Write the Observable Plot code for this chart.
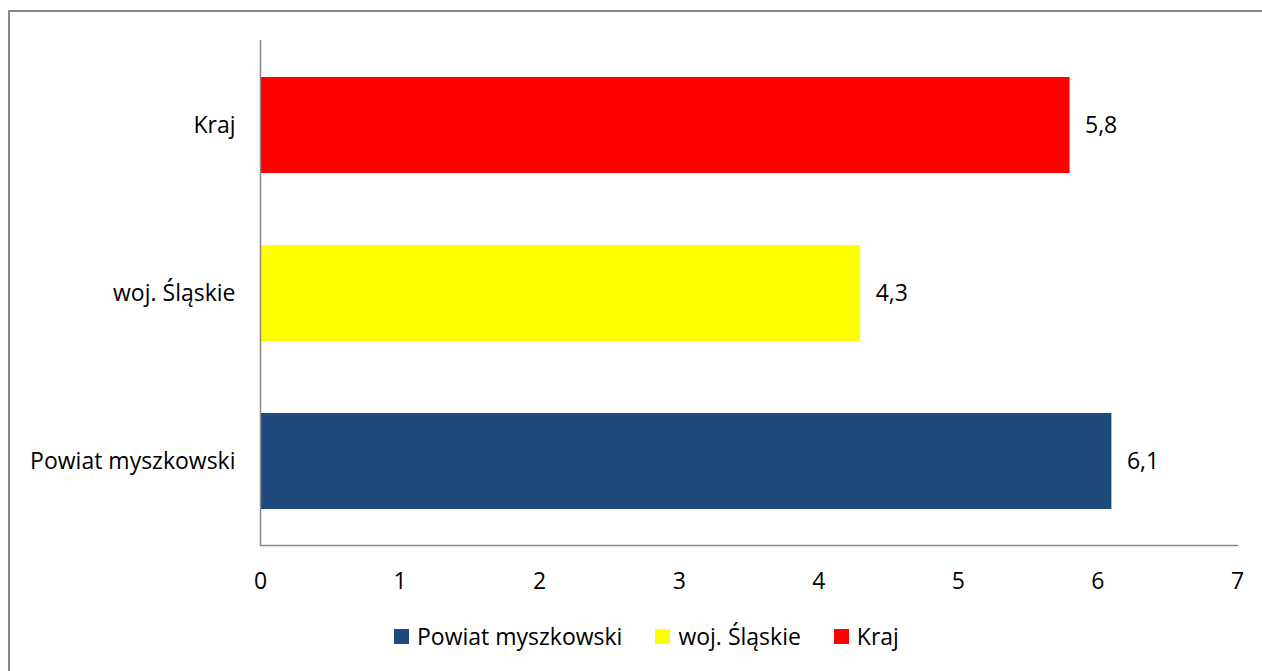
<!DOCTYPE html>
<html><head><meta charset="utf-8">
<script src="https://cdn.jsdelivr.net/npm/d3@7"></script>
<script src="https://cdn.jsdelivr.net/npm/@observablehq/plot@0.6"></script>
<style>
body{margin:0;background:#fff;font-family:"Open Sans",sans-serif;}
#frame{position:absolute;left:8px;top:10px;width:1260px;height:670px;border-top:2px solid #888;border-left:2px solid #888;}
#chart{position:absolute;left:0;top:0;}
#legend{position:absolute;left:394px;top:620px;display:flex;align-items:center;font-size:23px;color:#000;}
#legend span.sw{display:inline-block;width:15px;height:15px;margin-right:8px;}
#legend span.it{display:flex;align-items:center;margin-right:33px;}
</style></head>
<body>
<div id="frame"></div>
<div id="chart"></div>
<div id="legend"></div>
<script>
const categories = ["Kraj", "woj. Śląskie", "Powiat myszkowski"];
const values = [5.8, 4.3, 6.1];
const colors = ["#FF0000", "#FFFF00", "#214A7C"];
const legendOrder = ["Powiat myszkowski", "woj. Śląskie", "Kraj"];
const xTicks = [0, 1, 2, 3, 4, 5, 6, 7];

const data = categories.map((c, i) => ({cat: c, value: values[i], color: colors[i]}));
const fmt = v => v.toFixed(1).replace(".", ",");

const plot = Plot.plot({
  width: 1262,
  height: 610,
  marginLeft: 260,
  marginRight: 25,
  marginTop: 40,
  marginBottom: 65,
  style: {fontFamily: "'Open Sans', sans-serif", fontSize: "23px", color: "#000", background: "transparent"},
  x: {domain: [0, 7], ticks: xTicks, tickSize: 0, tickPadding: 27, label: null, tickFormat: d => String(d)},
  y: {domain: categories, paddingInner: 0.43, paddingOuter: 0.215, tickSize: 0, tickPadding: 25, label: null},
  marks: [
    Plot.barX(data, {x: "value", y: "cat", fill: "color"}),
    Plot.text(data, {x: "value", y: "cat", text: d => fmt(d.value), textAnchor: "start", dx: 15, fill: "#000", fontSize: 23}),
    Plot.ruleX([0], {stroke: "#888", strokeWidth: 1.5}),
    Plot.frame({anchor: "bottom", stroke: "#888", strokeWidth: 1.5})
  ]
});
document.getElementById("chart").appendChild(plot);

const leg = document.getElementById("legend");
legendOrder.forEach(name => {
  const i = categories.indexOf(name);
  const it = document.createElement("span");
  it.className = "it";
  const sw = document.createElement("span");
  sw.className = "sw";
  sw.style.background = colors[i];
  it.appendChild(sw);
  it.appendChild(document.createTextNode(name));
  leg.appendChild(it);
});
</script>
</body></html>
